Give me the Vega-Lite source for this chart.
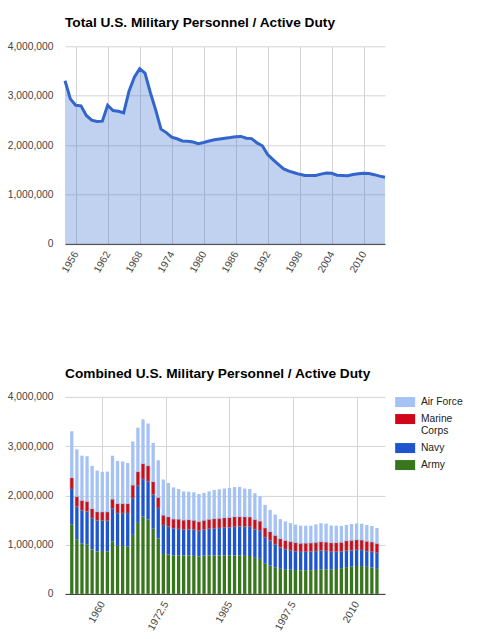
{
  "$schema": "https://vega.github.io/schema/vega-lite/v6.json",
  "description": "US active duty military personnel, total and by service, 1954-2014",
  "padding": {"left": 7, "top": 15.3, "right": 0, "bottom": 0},
  "datasets": {
    "personnel": [
      {"year": 1954, "total": 3302104, "Army": 1404598, "Navy": 725720, "Marine Corps": 223868, "Air Force": 947918},
      {"year": 1955, "total": 2935107, "Army": 1109296, "Navy": 660695, "Marine Corps": 205170, "Air Force": 959946},
      {"year": 1956, "total": 2806441, "Army": 1025778, "Navy": 669925, "Marine Corps": 200780, "Air Force": 909958},
      {"year": 1957, "total": 2794776, "Army": 997994, "Navy": 676071, "Marine Corps": 200861, "Air Force": 919835},
      {"year": 1958, "total": 2599518, "Army": 898925, "Navy": 639942, "Marine Corps": 189495, "Air Force": 871156},
      {"year": 1959, "total": 2503510, "Army": 861964, "Navy": 626340, "Marine Corps": 175571, "Air Force": 840028},
      {"year": 1960, "total": 2475438, "Army": 873078, "Navy": 617984, "Marine Corps": 170621, "Air Force": 814752},
      {"year": 1961, "total": 2483771, "Army": 858622, "Navy": 626223, "Marine Corps": 176909, "Air Force": 821151},
      {"year": 1962, "total": 2807819, "Army": 1066404, "Navy": 664212, "Marine Corps": 190962, "Air Force": 884025},
      {"year": 1963, "total": 2699677, "Army": 975916, "Navy": 664647, "Marine Corps": 189683, "Air Force": 869431},
      {"year": 1964, "total": 2685240, "Army": 973238, "Navy": 667596, "Marine Corps": 189777, "Air Force": 856798},
      {"year": 1965, "total": 2653926, "Army": 969066, "Navy": 671448, "Marine Corps": 190213, "Air Force": 824662},
      {"year": 1966, "total": 3092175, "Army": 1199784, "Navy": 745205, "Marine Corps": 261716, "Air Force": 887353},
      {"year": 1967, "total": 3375485, "Army": 1442498, "Navy": 751619, "Marine Corps": 285269, "Air Force": 897426},
      {"year": 1968, "total": 3546071, "Army": 1570343, "Navy": 763626, "Marine Corps": 307252, "Air Force": 904850},
      {"year": 1969, "total": 3458072, "Army": 1512169, "Navy": 775869, "Marine Corps": 309771, "Air Force": 862353},
      {"year": 1970, "total": 3064760, "Army": 1322548, "Navy": 692660, "Marine Corps": 259737, "Air Force": 791349},
      {"year": 1971, "total": 2713044, "Army": 1123810, "Navy": 621565, "Marine Corps": 212369, "Air Force": 755300},
      {"year": 1972, "total": 2321959, "Army": 810960, "Navy": 586923, "Marine Corps": 198238, "Air Force": 725838},
      {"year": 1973, "total": 2251936, "Army": 800973, "Navy": 563683, "Marine Corps": 196098, "Air Force": 691182},
      {"year": 1974, "total": 2161558, "Army": 783330, "Navy": 545903, "Marine Corps": 188802, "Air Force": 643795},
      {"year": 1975, "total": 2127521, "Army": 784333, "Navy": 535085, "Marine Corps": 195951, "Air Force": 612551},
      {"year": 1976, "total": 2081910, "Army": 779417, "Navy": 524678, "Marine Corps": 192399, "Air Force": 585416},
      {"year": 1977, "total": 2074543, "Army": 782246, "Navy": 529895, "Marine Corps": 191707, "Air Force": 570695},
      {"year": 1978, "total": 2062404, "Army": 771624, "Navy": 530253, "Marine Corps": 190815, "Air Force": 569712},
      {"year": 1979, "total": 2027494, "Army": 758852, "Navy": 522930, "Marine Corps": 185250, "Air Force": 559450},
      {"year": 1980, "total": 2050758, "Army": 777036, "Navy": 527153, "Marine Corps": 188469, "Air Force": 557969},
      {"year": 1981, "total": 2082560, "Army": 781419, "Navy": 540219, "Marine Corps": 190620, "Air Force": 570302},
      {"year": 1982, "total": 2108612, "Army": 780391, "Navy": 552996, "Marine Corps": 192380, "Air Force": 582845},
      {"year": 1983, "total": 2123349, "Army": 779643, "Navy": 557573, "Marine Corps": 194089, "Air Force": 592044},
      {"year": 1984, "total": 2138157, "Army": 780180, "Navy": 564638, "Marine Corps": 196214, "Air Force": 597125},
      {"year": 1985, "total": 2151032, "Army": 780787, "Navy": 570705, "Marine Corps": 198025, "Air Force": 601515},
      {"year": 1986, "total": 2169112, "Army": 780980, "Navy": 581119, "Marine Corps": 198814, "Air Force": 608199},
      {"year": 1987, "total": 2174217, "Army": 780815, "Navy": 586842, "Marine Corps": 199525, "Air Force": 607035},
      {"year": 1988, "total": 2138213, "Army": 771847, "Navy": 592570, "Marine Corps": 197350, "Air Force": 576446},
      {"year": 1989, "total": 2130229, "Army": 769741, "Navy": 592652, "Marine Corps": 196956, "Air Force": 570880},
      {"year": 1990, "total": 2043705, "Army": 732403, "Navy": 579417, "Marine Corps": 196652, "Air Force": 535233},
      {"year": 1991, "total": 1985555, "Army": 710821, "Navy": 570262, "Marine Corps": 194040, "Air Force": 510432},
      {"year": 1992, "total": 1807177, "Army": 610450, "Navy": 541883, "Marine Corps": 184529, "Air Force": 470315},
      {"year": 1993, "total": 1705103, "Army": 572423, "Navy": 509950, "Marine Corps": 178379, "Air Force": 444351},
      {"year": 1994, "total": 1610490, "Army": 541343, "Navy": 468662, "Marine Corps": 174158, "Air Force": 426327},
      {"year": 1995, "total": 1518224, "Army": 508559, "Navy": 434617, "Marine Corps": 174639, "Air Force": 400409},
      {"year": 1996, "total": 1471722, "Army": 491103, "Navy": 416735, "Marine Corps": 174883, "Air Force": 389001},
      {"year": 1997, "total": 1438562, "Army": 491707, "Navy": 395564, "Marine Corps": 173906, "Air Force": 377385},
      {"year": 1998, "total": 1406830, "Army": 483880, "Navy": 382338, "Marine Corps": 173142, "Air Force": 367470},
      {"year": 1999, "total": 1385703, "Army": 479426, "Navy": 373046, "Marine Corps": 172641, "Air Force": 360590},
      {"year": 2000, "total": 1384338, "Army": 482170, "Navy": 373193, "Marine Corps": 173321, "Air Force": 355654},
      {"year": 2001, "total": 1385116, "Army": 480801, "Navy": 377810, "Marine Corps": 172934, "Air Force": 353571},
      {"year": 2002, "total": 1411634, "Army": 486542, "Navy": 383108, "Marine Corps": 173733, "Air Force": 368251},
      {"year": 2003, "total": 1434377, "Army": 499301, "Navy": 382235, "Marine Corps": 177779, "Air Force": 375062},
      {"year": 2004, "total": 1426836, "Army": 499543, "Navy": 373197, "Marine Corps": 177480, "Air Force": 376616},
      {"year": 2005, "total": 1389394, "Army": 492728, "Navy": 362941, "Marine Corps": 180029, "Air Force": 353696},
      {"year": 2006, "total": 1384968, "Army": 505402, "Navy": 350197, "Marine Corps": 180416, "Air Force": 348953},
      {"year": 2007, "total": 1379551, "Army": 522017, "Navy": 337547, "Marine Corps": 186492, "Air Force": 333495},
      {"year": 2008, "total": 1401757, "Army": 543645, "Navy": 332228, "Marine Corps": 198505, "Air Force": 327379},
      {"year": 2009, "total": 1418542, "Army": 553044, "Navy": 329304, "Marine Corps": 203075, "Air Force": 333408},
      {"year": 2010, "total": 1430985, "Army": 566045, "Navy": 328303, "Marine Corps": 202441, "Air Force": 334196},
      {"year": 2011, "total": 1425113, "Army": 565463, "Navy": 325123, "Marine Corps": 201157, "Air Force": 333370},
      {"year": 2012, "total": 1399953, "Army": 550064, "Navy": 318406, "Marine Corps": 198193, "Air Force": 332959},
      {"year": 2013, "total": 1370329, "Army": 532043, "Navy": 323951, "Marine Corps": 195848, "Air Force": 326573},
      {"year": 2014, "total": 1347000, "Army": 508210, "Navy": 325694, "Marine Corps": 187891, "Air Force": 315880}
    ]
  },
  "vconcat": [
    {
      "title": "Total U.S. Military Personnel / Active Duty",
      "width": 320,
      "height": 197.5,
      "data": {"name": "personnel"},
      "encoding": {
        "x": {
          "field": "year",
          "type": "quantitative",
          "title": null,
          "scale": {"domain": [1954, 2014], "nice": false, "zero": false},
          "axis": {"values": [1956, 1962, 1968, 1974, 1980, 1986, 1992, 1998, 2004, 2010], "labelExpr": "datum.value + ''"}
        },
        "y": {
          "field": "total",
          "type": "quantitative",
          "title": null,
          "scale": {"domain": [0, 4000000], "nice": false}
        }
      },
      "layer": [
        {"mark": {"type": "area", "color": "#3366cc", "opacity": 0.3}},
        {"mark": {"type": "line", "color": "#3366cc", "strokeWidth": 3}}
      ]
    },
    {
      "title": "Combined U.S. Military Personnel / Active Duty",
      "width": 320,
      "height": 197,
      "data": {"name": "personnel"},
      "transform": [
        {"fold": ["Army", "Navy", "Marine Corps", "Air Force"], "as": ["service", "personnel"]},
        {"calculate": "indexof(['Army', 'Navy', 'Marine Corps', 'Air Force'], datum.service)", "as": "stackOrder"}
      ],
      "mark": {"type": "bar", "width": 3.3, "stroke": "#888", "strokeOpacity": 0.35},
      "encoding": {
        "x": {
          "field": "year",
          "type": "quantitative",
          "title": null,
          "scale": {"domain": [1953.65, 2014.6], "nice": false, "zero": false},
          "axis": {"values": [1960, 1972.5, 1985, 1997.5, 2010], "labelExpr": "datum.value + ''"}
        },
        "y": {
          "field": "personnel",
          "type": "quantitative",
          "title": null,
          "stack": "zero",
          "scale": {"domain": [0, 4000000], "nice": false}
        },
        "color": {
          "field": "service",
          "type": "nominal",
          "scale": {
            "domain": ["Air Force", "Marine Corps", "Navy", "Army"],
            "range": ["#a4c2f4", "#d2061a", "#1c55cd", "#38761d"]
          },
          "legend": {
            "title": null,
            "orient": "right",
            "offset": 15,
            "padding": 0,
            "symbolType": "M-2,-1H2V1H-2Z",
            "symbolSize": 100,
            "symbolStrokeWidth": 0,
            "symbolOpacity": 1,
            "labelFontSize": 10.3,
            "labelColor": "#222",
            "labelOffset": 10.6,
            "rowPadding": 6,
            "labelExpr": "datum.label == 'Marine Corps' ? ['Marine', 'Corps'] : datum.label"
          }
        },
        "strokeWidth": {
          "condition": {"test": "datum.service == 'Marine Corps'", "value": 1.5},
          "value": 0
        },
        "order": {"field": "stackOrder", "type": "quantitative"}
      }
    }
  ],
  "spacing": 152.6,
  "bounds": "flush",
  "resolve": {
    "scale": {"x": "independent", "y": "independent", "color": "independent"},
    "legend": {"color": "independent"}
  },
  "config": {
    "font": "Liberation Sans",
    "view": {"stroke": null},
    "title": {
      "anchor": "start",
      "frame": "group",
      "fontSize": 13.7,
      "fontWeight": "bold",
      "color": "#000",
      "baseline": "alphabetic",
      "offset": 11.5
    },
    "axis": {
      "labelFontSize": 10.3,
      "labelColor": "#444",
      "gridColor": "#d4d4d4",
      "gridWidth": 1,
      "ticks": false,
      "domain": false
    },
    "axisX": {
      "domain": true,
      "domainColor": "#333",
      "domainWidth": 1,
      "labelAngle": -60,
      "labelAlign": "right",
      "labelBaseline": "middle",
      "labelPadding": 8
    },
    "axisY": {
      "labelPadding": 12,
      "values": [0, 1000000, 2000000, 3000000, 4000000],
      "format": ",d"
    },
    "legend": {"labelFont": "Liberation Sans"}
  }
}
